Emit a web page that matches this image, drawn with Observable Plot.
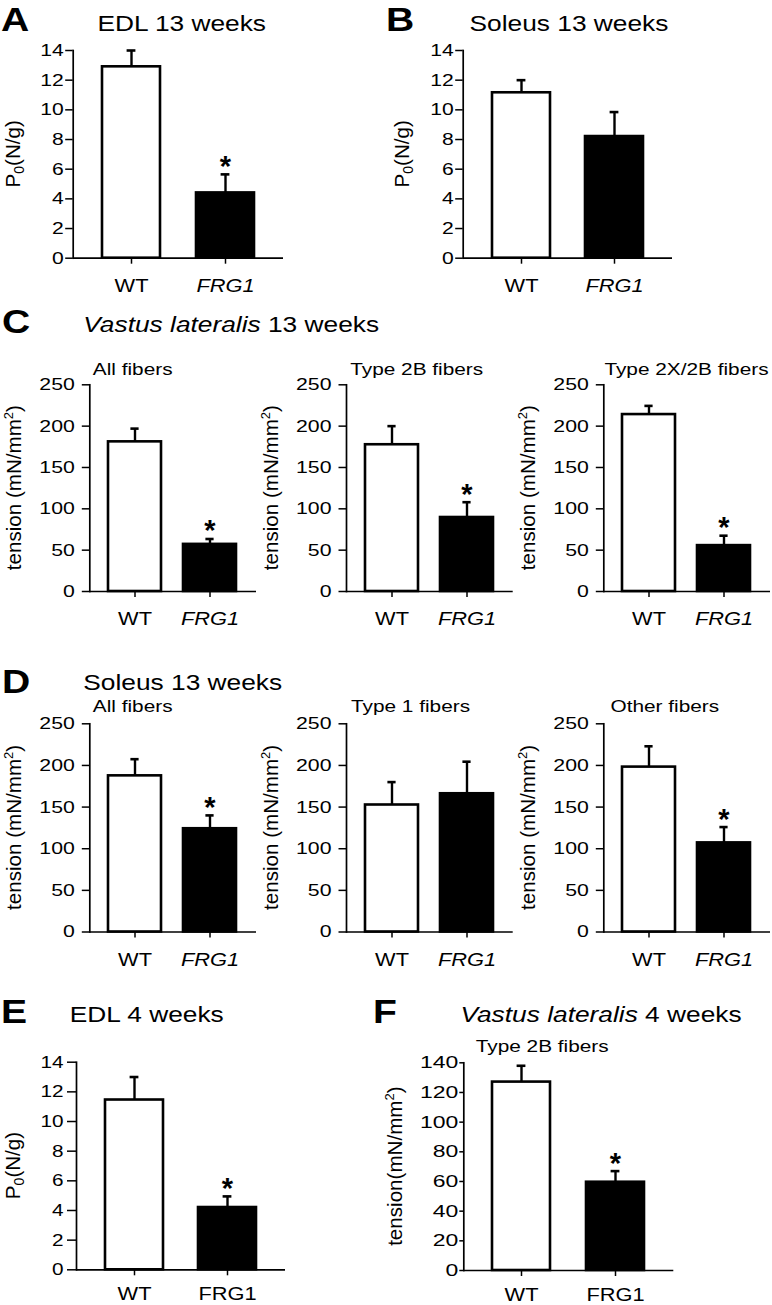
<!DOCTYPE html>
<html><head><meta charset="utf-8">
<script src="https://cdn.jsdelivr.net/npm/d3@7"></script>
<script src="https://cdn.jsdelivr.net/npm/@observablehq/plot@0.6"></script>
<style>
html,body{margin:0;padding:0;background:#fff;}
#fig{position:relative;width:772px;height:1305px;overflow:hidden;background:#fff;}
#fig > svg{position:absolute;}
</style></head><body><div id="fig"></div>
<script>
// ---------- data ----------
const groups = ["WT", "FRG1"];
const aMean = [12.9, 4.4],    aSem = [1.1, 1.25],   aSig = [false, true];
const bMean = [11.15, 8.2],   bSem = [0.85, 1.65],  bSig = [false, false];
const c1Mean = [181, 57],     c1Sem = [16, 6.5],    c1Sig = [false, true];
const c2Mean = [177.5, 89.5], c2Sem = [22.5, 18.5], c2Sig = [false, true];
const c3Mean = [214, 55.5],   c3Sem = [10.5, 12],   c3Sig = [false, true];
const d1Mean = [187.5, 124],  d1Sem = [20, 16],     d1Sig = [false, true];
const d2Mean = [152.5, 166],  d2Sem = [27.5, 38.5], d2Sig = [false, false];
const d3Mean = [198, 107],    d3Sem = [25, 19],     d3Sig = [false, true];
const eMean = [11.45, 4.2],   eSem = [1.55, 0.75],  eSig = [false, true];
const fMean = [127, 59.5],    fSem = [11, 7.5],     fSig = [false, true];

const p0Ticks = [0, 2, 4, 6, 8, 10, 12, 14];
const tensionTicks = [0, 50, 100, 150, 200, 250];
const tension4Ticks = [0, 20, 40, 60, 80, 100, 120, 140];

const panelLetters = ["A", "B", "C", "D", "E", "F"];
const subtitlesC = ["All fibers", "Type 2B fibers", "Type 2X/2B fibers"];
const subtitlesD = ["All fibers", "Type 1 fibers", "Other fibers"];
const subtitleF = "Type 2B fibers";

const FONT = '"Liberation Sans", Arial, Helvetica, sans-serif';
const fig = d3.select("#fig");

// ---------- panels ----------
const panels = [
  {mean: aMean, sem: aSem, sig: aSig, max: 14, ticks: p0Ticks, x0: 72.7, x1: 283, yTop: 50, yBot: 257.7, big: true, tickSize: 7.5, tickPad: 2, tickScale: 1.24, italic: true, ylab: "P0", ylabX: 19.5, xPad: 14.6},
  {mean: bMean, sem: bSem, sig: bSig, max: 14, ticks: p0Ticks, x0: 462.7, x1: 672, yTop: 50, yBot: 257.7, big: true, tickSize: 7.5, tickPad: 2, tickScale: 1.24, italic: true, ylab: "P0", ylabX: 408.5, xPad: 14.6},
  {mean: c1Mean, sem: c1Sem, sig: c1Sig, max: 250, ticks: tensionTicks, x0: 89.3, x1: 256, yTop: 384.3, yBot: 591, big: false, tickSize: 7.5, tickPad: 7.5, tickScale: 1.25, italic: true, ylab: "tension (mN/mm", ylabX: 21.3, xPad: 14.6},
  {mean: c2Mean, sem: c2Sem, sig: c2Sig, max: 250, ticks: tensionTicks, x0: 346, x1: 512.7, yTop: 384.3, yBot: 591, big: false, tickSize: 7.5, tickPad: 7.5, tickScale: 1.25, italic: true, ylab: "tension (mN/mm", ylabX: 278, xPad: 14.6},
  {mean: c3Mean, sem: c3Sem, sig: c3Sig, max: 250, ticks: tensionTicks, x0: 603.3, x1: 770, yTop: 384.3, yBot: 591, big: false, tickSize: 7.5, tickPad: 7.5, tickScale: 1.25, italic: true, ylab: "tension (mN/mm", ylabX: 535.3, xPad: 14.6},
  {mean: d1Mean, sem: d1Sem, sig: d1Sig, max: 250, ticks: tensionTicks, x0: 89.3, x1: 256, yTop: 723.3, yBot: 931.5, big: false, tickSize: 7.5, tickPad: 7.5, tickScale: 1.25, italic: true, ylab: "tension (mN/mm", ylabX: 21.3, xPad: 14.6},
  {mean: d2Mean, sem: d2Sem, sig: d2Sig, max: 250, ticks: tensionTicks, x0: 346, x1: 512.7, yTop: 723.3, yBot: 931.5, big: false, tickSize: 7.5, tickPad: 7.5, tickScale: 1.25, italic: true, ylab: "tension (mN/mm", ylabX: 278, xPad: 14.6},
  {mean: d3Mean, sem: d3Sem, sig: d3Sig, max: 250, ticks: tensionTicks, x0: 603.3, x1: 770, yTop: 723.3, yBot: 931.5, big: false, tickSize: 7.5, tickPad: 7.5, tickScale: 1.25, italic: true, ylab: "tension (mN/mm", ylabX: 535.3, xPad: 14.6},
  {mean: eMean, sem: eSem, sig: eSig, max: 14, ticks: p0Ticks, x0: 76, x1: 285, yTop: 1061.7, yBot: 1269.3, big: true, tickSize: 9, tickPad: 4, tickScale: 1.22, italic: false, ylab: "P0", ylabX: 19.5, xPad: 11.5},
  {mean: fMean, sem: fSem, sig: fSig, max: 140, ticks: tension4Ticks, x0: 463.3, x1: 673.3, yTop: 1062.3, yBot: 1270, big: true, tickSize: 4, tickPad: 1.5, tickScale: 1.35, italic: false, ylab: "tension(mN/mm", ylabX: 401.6, xPad: 11}
];

function stretchText(node, s) {
  const L = node.getComputedTextLength();
  if (L > 0) {
    node.setAttribute("textLength", L * s);
    node.setAttribute("lengthAdjust", "spacingAndGlyphs");
  }
}

for (const p of panels) {
  const data = groups.map((g, i) => ({group: g, mean: p.mean[i], upper: p.mean[i] + p.sem[i], sig: p.sig[i]}));
  const left = Math.max(0, Math.round(p.x0 - 56));
  const top = Math.round(p.yTop - 30);
  const right = Math.min(772, Math.round(p.x1 + 4));
  const bottom = Math.min(1305, Math.round(p.yBot + 42));
  const bw = p.big ? 58.4 : 54;
  const capInset = bw / 2 - 4.6;
  const chart = Plot.plot({
    width: right - left, height: bottom - top,
    marginLeft: p.x0 - left, marginRight: right - p.x1,
    marginTop: p.yTop - top, marginBottom: bottom - p.yBot,
    style: {fontFamily: FONT, fontSize: "17px", color: "black", background: "transparent", overflow: "visible"},
    x: {domain: groups, paddingInner: p.big ? 0.38 : 0.287, paddingOuter: p.big ? 0.305 : 0.245, align: 0.5, label: null},
    y: {domain: [0, p.max], label: null},
    color: {type: "identity"},
    marks: [
      Plot.ruleY([0], {strokeWidth: 1.7}),
      Plot.frame({anchor: "left", strokeWidth: 1.7}),
      Plot.barY(data, {x: "group", y: "mean", fill: d => d.group === "WT" ? "white" : "black", stroke: "black", strokeWidth: 2.6}),
      Plot.ruleX(data, {x: "group", y1: "mean", y2: "upper", strokeWidth: 2.4}),
      Plot.tickY(data, {x: "group", y: "upper", insetLeft: capInset, insetRight: capInset, strokeWidth: 2.6}),
      Plot.text(data.filter(d => d.sig), {x: "group", y: "upper", text: () => "*", fontSize: 29, fontWeight: "bold", lineAnchor: "bottom", dy: 1.5}),
      Plot.axisY({ticks: p.ticks, tickFormat: d => String(d), tickSize: p.tickSize, tickPadding: p.tickPad, fontSize: 17, label: null, strokeWidth: 1.5}),
      Plot.axisX({tickSize: 6, tickPadding: p.xPad, fontSize: 18.5, label: null, strokeWidth: 1.5})
    ]
  });
  const svg = chart.tagName.toLowerCase() === "svg" ? chart : chart.querySelector("svg");
  d3.select(chart).style("position", "absolute").style("left", left + "px").style("top", top + "px");
  fig.node().appendChild(chart);
  d3.select(svg).selectAll('g[aria-label="y-axis tick label"] text').each(function () { stretchText(this, p.tickScale); });
  d3.select(svg).selectAll('g[aria-label="x-axis tick label"] text').each(function () {
    if (p.italic && this.textContent.trim() === "FRG1") this.setAttribute("font-style", "italic");
    stretchText(this, 1.18);
  });
}

// ---------- overlay text ----------
const ov = fig.append("svg").attr("width", 772).attr("height", 1305)
  .style("position", "absolute").style("left", "0px").style("top", "0px")
  .attr("font-family", FONT).attr("fill", "black");

function label(parts, x, y, size, anchor, scale, weight) {
  const t = ov.append("text").attr("transform", `translate(${x},${y}) scale(${scale},1)`)
    .attr("font-size", size).attr("text-anchor", anchor).attr("font-weight", weight || "normal");
  for (const part of parts) {
    const s = t.append("tspan").text(part.t);
    if (part.i) s.attr("font-style", "italic");
  }
  return t;
}

// panel letters
const letterPos = [[1, 30.8], [386, 30.8], [2, 333.3], [2, 693], [1, 1022.7], [373, 1022.7]];
panelLetters.forEach((L, i) => label([{t: L}], letterPos[i][0], letterPos[i][1], 34, "start", 1.15, "bold"));

// titles
label([{t: "EDL 13 weeks"}], 181.7, 31, 21.4, "middle", 1.23);
label([{t: "Soleus 13 weeks"}], 569, 31, 21.4, "middle", 1.23);
label([{t: "Vastus lateralis", i: true}, {t: " 13 weeks"}], 83.3, 331.7, 21.4, "start", 1.23);
label([{t: "Soleus 13 weeks"}], 83.3, 690, 21.4, "start", 1.23);
label([{t: "EDL 4 weeks"}], 146.7, 1021.7, 21.4, "middle", 1.23);
label([{t: "Vastus lateralis", i: true}, {t: " 4 weeks"}], 601, 1021.7, 21.4, "middle", 1.23);

// subtitles
const subX = [132.7, 416.7, 686.5];
const subXD = [132.7, 410.5, 664.8];
subtitlesC.forEach((s, i) => label([{t: s}], subX[i], 375, 17.2, "middle", 1.21));
subtitlesD.forEach((s, i) => label([{t: s}], subXD[i], 711.7, 17.2, "middle", 1.21));
label([{t: subtitleF}], 542.2, 1051.7, 17.2, "middle", 1.21);

// rotated y labels
for (const p of panels) {
  const cy = (p.yTop + p.yBot) / 2;
  const t = ov.append("text").attr("transform", `translate(${p.ylabX},${cy}) rotate(-90)`)
    .attr("font-size", 20.6).attr("text-anchor", "middle");
  if (p.ylab === "P0") {
    t.append("tspan").text("P");
    t.append("tspan").attr("font-size", 14).attr("dy", 4).text("0");
    t.append("tspan").attr("dy", -4).text("(N/g)");
  } else {
    t.append("tspan").text(p.ylab);
    t.append("tspan").attr("font-size", 13).attr("dy", -8).text("2");
    t.append("tspan").attr("dy", 8).text(")");
  }
}
</script></body></html>
